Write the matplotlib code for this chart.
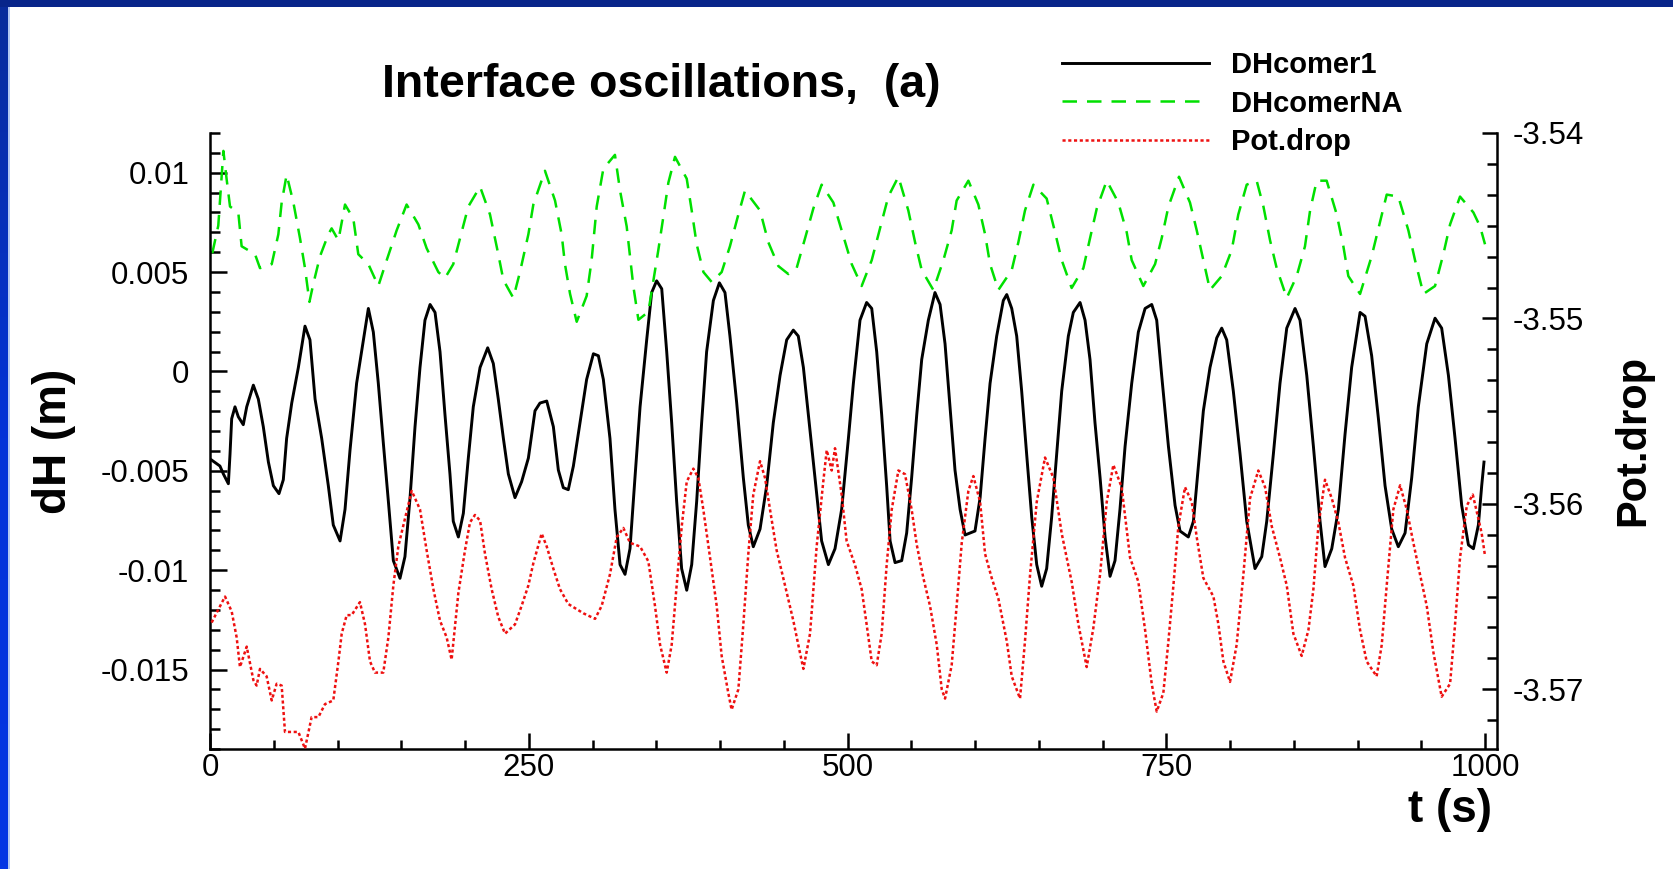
import numpy as np
import matplotlib
matplotlib.use("Agg")
import matplotlib.pyplot as plt
from matplotlib.patches import Rectangle
from matplotlib.colors import LinearSegmentedColormap
from matplotlib.ticker import MultipleLocator, FixedLocator, FuncFormatter

plt.rcParams['font.family'] = ['Liberation Sans', 'DejaVu Sans']
plt.rcParams['axes.unicode_minus'] = False

# DHcomer1 interface level (m)
t_dh1 = [1.3, 7.8, 10.5, 14.4, 15.7, 17.0, 19.6, 22.2, 26.1, 28.8, 34.0, 37.9, 41.8, 45.8,
         49.7, 54.1, 57.5, 60.1, 64.1, 69.3, 74.5, 78.4, 82.4, 87.6, 92.8, 96.7, 102.0,
         105.9, 109.8, 115.0, 120.3, 124.2, 128.1, 132.0, 135.9, 139.9, 143.8, 149.0,
         152.9, 156.9, 160.8, 164.7, 168.6, 172.6, 176.5, 180.4, 184.3, 188.2, 190.8,
         194.8, 198.7, 202.6, 206.5, 211.8, 217.8, 222.2, 226.1, 230.1, 234.0, 239.2,
         244.4, 249.7, 254.9, 258.8, 264.1, 269.3, 273.2, 277.1, 281.0, 285.0, 290.2,
         295.4, 300.7, 304.6, 308.5, 313.7, 317.6, 321.6, 325.5, 329.4, 333.3, 337.3,
         342.5, 346.4, 350.3, 354.3, 358.2, 362.1, 366.0, 369.9, 373.9, 377.8, 381.7,
         385.6, 389.5, 394.8, 399.5, 403.9, 407.8, 413.1, 418.3, 422.2, 426.1, 431.4,
         436.6, 441.8, 447.1, 452.3, 457.5, 461.4, 465.4, 470.6, 475.8, 479.7, 485.0,
         490.2, 495.4, 500.7, 504.6, 509.8, 515.0, 519.0, 522.9, 526.8, 530.7, 533.4,
         537.3, 542.5, 546.4, 550.3, 554.3, 558.2, 563.4, 568.6, 572.6, 576.5, 580.4,
         584.3, 588.3, 592.2, 600.0, 604.0, 607.9, 611.8, 617.0, 622.2, 624.9, 628.8,
         632.7, 636.6, 640.5, 644.5, 648.4, 652.3, 656.2, 660.1, 664.1, 668.0, 673.2,
         677.1, 682.4, 686.3, 690.2, 694.1, 698.1, 702.0, 705.9, 709.8, 713.7, 717.7,
         722.9, 728.1, 733.4, 738.6, 742.5, 746.4, 751.7, 756.9, 760.8, 767.3, 771.3,
         775.2, 779.1, 784.3, 789.6, 793.5, 797.4, 802.6, 807.9, 813.1, 819.6, 824.9,
         828.8, 834.0, 839.2, 844.5, 851.0, 854.9, 860.2, 865.4, 870.6, 874.5, 879.8,
         885.0, 890.2, 895.4, 902.0, 905.9, 911.1, 916.4, 921.6, 926.8, 932.0, 937.3,
         942.5, 947.7, 954.3, 960.8, 966.0, 971.3, 976.5, 981.7, 987.0, 990.9, 994.8,
         997.4, 999.2]
dh1 = [-0.00446, -0.00476, -0.00516, -0.00565, -0.00416, -0.00238, -0.00178, -0.00228,
       -0.00268, -0.00178, -0.00069, -0.00139, -0.00278, -0.00456, -0.00575, -0.00615,
       -0.00545, -0.00337, -0.00159, 0.0002, 0.00228, 0.00159, -0.00139, -0.00337,
       -0.00575, -0.00773, -0.00853, -0.00694, -0.00397, -0.00059, 0.00159, 0.00317,
       0.00198, -0.00059, -0.00357, -0.00654, -0.00952, -0.01041, -0.00932, -0.00635,
       -0.00278, 0.0002, 0.00258, 0.00337, 0.00297, 0.00099, -0.00218, -0.00516,
       -0.00754, -0.00833, -0.00714, -0.00436, -0.00178, 0.0002, 0.00119, 0.0004,
       -0.00139, -0.00337, -0.00516, -0.00635, -0.00555, -0.00436, -0.00198, -0.00159,
       -0.00149, -0.00278, -0.00496, -0.00585, -0.00595, -0.00476, -0.00258, -0.0004,
       0.00089, 0.00079, -0.0004, -0.00337, -0.00694, -0.00972, -0.01021, -0.00892,
       -0.00535, -0.00178, 0.00159, 0.00397, 0.00456, 0.00416, 0.00099, -0.00258,
       -0.00654, -0.00992, -0.01101, -0.00972, -0.00654, -0.00258, 0.00099, 0.00357,
       0.00446, 0.00397, 0.00178, -0.00159, -0.00535, -0.00773, -0.00882, -0.00793,
       -0.00575, -0.00258, -0.0002, 0.00159, 0.00208, 0.00178, 0.0002, -0.00297,
       -0.00615, -0.00853, -0.00972, -0.00892, -0.00694, -0.00337, -0.0006, 0.00258,
       0.00347, 0.00317, 0.00099, -0.00218, -0.00575, -0.00853, -0.00962, -0.00952,
       -0.00813, -0.00535, -0.00218, 0.0006, 0.00258, 0.00397, 0.00337, 0.00139,
       -0.00178, -0.00496, -0.00694, -0.00823, -0.00803, -0.00635, -0.00337, -0.0006,
       0.00178, 0.00357, 0.00387, 0.00317, 0.00178, -0.00099, -0.00416, -0.00734,
       -0.00972, -0.01081, -0.00992, -0.00734, -0.00416, -0.00099, 0.00178, 0.00297,
       0.00347, 0.00258, 0.0006, -0.00258, -0.00535, -0.00833, -0.01031, -0.00952,
       -0.00694, -0.00377, -0.0006, 0.00198, 0.00317, 0.00337, 0.00258, -0.0002,
       -0.00377, -0.00674, -0.00803, -0.00833, -0.00754, -0.00476, -0.00198, 0.0002,
       0.00169, 0.00218, 0.00159, -0.00099, -0.00416, -0.00754, -0.00992, -0.00932,
       -0.00754, -0.00416, -0.0006, 0.00218, 0.00317, 0.00258, -0.0002, -0.00377,
       -0.00754, -0.00982, -0.00892, -0.00694, -0.00317, 0.0002, 0.00297, 0.00278,
       0.00079, -0.00238, -0.00575, -0.00793, -0.00882, -0.00813, -0.00535, -0.00178,
       0.00139, 0.00268, 0.00218, -0.0002, -0.00337, -0.00674, -0.00873, -0.00892,
       -0.00773, -0.00575, -0.00456]

# DHcomerNA interface level (m)
t_dhna = [1.8, 6.5, 10.5, 13.0, 15.7, 22.2, 24.8, 30.0, 35.3, 39.2, 48.4, 53.6, 56.2,
          60.1, 65.4, 70.6, 74.5, 78.0, 81.0, 86.3, 92.8, 95.4, 100.7, 105.9, 112.4,
          116.3, 124.2, 132.0, 138.6, 146.4, 154.2, 163.4, 169.9, 179.1, 184.3, 190.8,
          196.1, 202.6, 211.8, 219.6, 226.1, 230.1, 237.9, 243.1, 249.7, 253.6, 262.7,
          270.6, 275.8, 278.4, 282.4, 287.6, 295.4, 299.3, 303.3, 308.5, 317.6, 321.6,
          326.8, 329.4, 332.0, 336.0, 343.8, 351.6, 355.6, 359.5, 364.7, 373.9, 377.8,
          381.7, 387.0, 393.5, 401.3, 407.8, 414.4, 419.6, 431.4, 437.9, 445.8, 453.6,
          460.1, 466.7, 473.2, 479.7, 488.9, 495.4, 503.3, 511.1, 519.0, 525.5, 532.0,
          539.9, 547.7, 553.0, 558.2, 567.3, 575.2, 581.7, 585.6, 594.8, 602.6, 607.9,
          611.8, 618.3, 628.8, 634.0, 639.2, 645.8, 656.2, 662.8, 668.0, 675.8, 685.0,
          690.2, 695.5, 703.3, 712.4, 719.0, 722.9, 732.0, 741.2, 746.4, 751.7, 760.0,
          768.6, 773.9, 779.1, 784.3, 793.5, 801.3, 806.5, 813.1, 820.9, 826.2, 831.4,
          836.6, 844.5, 852.3, 858.8, 862.8, 868.0, 875.8, 883.7, 888.9, 892.8, 902.0,
          911.1, 916.4, 922.9, 932.0, 939.9, 945.1, 951.7, 960.8, 967.3, 972.6, 980.4,
          990.9, 996.1, 1000.0]
dhna = [0.00595, 0.00734, 0.0111, 0.0097, 0.0083, 0.0080, 0.0063, 0.0061, 0.0059, 0.0052,
        0.0054, 0.0069, 0.0085, 0.0099, 0.0085, 0.0067, 0.0052, 0.0035, 0.0044, 0.0058,
        0.0069, 0.0072, 0.0066, 0.0084, 0.0077, 0.0059, 0.0054, 0.0043, 0.0056, 0.0071,
        0.0084, 0.0074, 0.0062, 0.0050, 0.0047, 0.0054, 0.0067, 0.0083, 0.0093, 0.0079,
        0.0059, 0.0046, 0.0037, 0.0050, 0.0069, 0.0084, 0.0101, 0.0086, 0.0069, 0.0054,
        0.0039, 0.0025, 0.0038, 0.0056, 0.0083, 0.0102, 0.0109, 0.0091, 0.0073, 0.0058,
        0.0043, 0.0026, 0.0030, 0.0061, 0.0078, 0.0095, 0.0108, 0.0097, 0.0081, 0.0064,
        0.0050, 0.0045, 0.0050, 0.0063, 0.0079, 0.0091, 0.0081, 0.0065, 0.0053, 0.0049,
        0.0052, 0.0067, 0.0082, 0.0094, 0.0085, 0.0071, 0.0054, 0.0043, 0.0056, 0.0072,
        0.0088, 0.0098, 0.0081, 0.0065, 0.0051, 0.0041, 0.0056, 0.0071, 0.0086, 0.0096,
        0.0084, 0.0069, 0.0054, 0.0041, 0.0051, 0.0065, 0.0081, 0.0094, 0.0087, 0.0070,
        0.0056, 0.0042, 0.0052, 0.0067, 0.0082, 0.0096, 0.0085, 0.0070, 0.0056, 0.0043,
        0.0054, 0.0067, 0.0083, 0.0098, 0.0085, 0.0071, 0.0056, 0.0041, 0.0048, 0.0061,
        0.0079, 0.0094, 0.0096, 0.0083, 0.0066, 0.0052, 0.0037, 0.0048, 0.0063, 0.0081,
        0.0096, 0.0096, 0.0079, 0.0063, 0.0048, 0.0039, 0.0058, 0.0072, 0.0089, 0.0088,
        0.0071, 0.0056, 0.0039, 0.0043, 0.0059, 0.0074, 0.0088, 0.0080, 0.0073, 0.0064]

# potential drop (right axis)
t_pot = [1.3, 6.5, 11.8, 17.0, 20.9, 23.5, 28.8, 34.0, 36.6, 39.2, 44.4, 48.4, 52.3, 56.2,
         58.8, 69.3, 74.5, 79.7, 85.0, 90.2, 96.7, 100.7, 103.3, 107.2, 111.1, 117.6,
         121.6, 125.5, 129.4, 135.9, 139.9, 143.8, 147.7, 152.9, 158.2, 164.7, 169.9,
         175.2, 180.4, 185.6, 189.5, 194.8, 200.0, 203.9, 207.8, 211.8, 215.7, 220.9,
         226.1, 231.4, 239.2, 244.4, 249.7, 253.6, 260.1, 264.1, 269.3, 274.5, 281.0,
         292.8, 302.0, 307.2, 313.7, 319.0, 324.2, 329.4, 337.3, 343.8, 349.0, 353.0,
         358.2, 362.1, 366.0, 370.0, 373.9, 379.1, 383.0, 386.9, 392.2, 397.4, 401.3,
         406.5, 409.1, 414.4, 418.3, 422.2, 426.1, 431.4, 435.3, 439.2, 444.4, 451.0,
         457.5, 461.4, 465.4, 470.6, 475.8, 481.0, 483.7, 487.6, 490.2, 495.4, 499.3,
         505.9, 511.1, 515.0, 519.0, 522.9, 526.8, 530.7, 534.7, 539.9, 545.1, 550.3,
         554.3, 559.5, 564.7, 570.0, 573.9, 576.5, 581.7, 585.6, 589.6, 594.8, 598.7,
         604.0, 607.9, 613.1, 618.3, 624.9, 628.8, 635.3, 639.2, 643.2, 648.4, 654.9,
         661.5, 668.0, 675.8, 681.1, 687.6, 692.8, 698.1, 703.3, 708.5, 715.0, 721.6,
         728.1, 733.4, 738.6, 742.5, 747.7, 751.7, 755.6, 759.5, 764.7, 770.0, 773.9,
         779.1, 787.0, 790.9, 794.8, 800.0, 805.2, 810.5, 815.7, 822.2, 827.5, 832.7,
         839.2, 844.5, 849.7, 856.2, 861.5, 865.4, 869.3, 874.5, 879.8, 885.0, 890.2,
         896.7, 902.0, 907.2, 915.0, 919.0, 922.9, 928.1, 933.4, 938.6, 943.8, 949.0,
         954.3, 959.5, 966.0, 972.6, 976.5, 980.4, 985.7, 990.4, 994.8, 997.4, 1000.0]
pot = [-3.5664, -3.5657, -3.5650, -3.5658, -3.5672, -3.5688, -3.5677, -3.5695, -3.5698,
       -3.5689, -3.5693, -3.5706, -3.5697, -3.5698, -3.5723, -3.5723, -3.5732, -3.5715,
       -3.5715, -3.5708, -3.5706, -3.5685, -3.5670, -3.5660, -3.5660, -3.5653, -3.5665,
       -3.5685, -3.5691, -3.5691, -3.5672, -3.5644, -3.5623, -3.5608, -3.5593, -3.5603,
       -3.5625, -3.5646, -3.5663, -3.5672, -3.5684, -3.5648, -3.5625, -3.5610, -3.5606,
       -3.5609, -3.5627, -3.5646, -3.5661, -3.5670, -3.5665, -3.5655, -3.5644, -3.5632,
       -3.5616, -3.5623, -3.5635, -3.5646, -3.5654, -3.5659, -3.5662, -3.5655, -3.5638,
       -3.5618, -3.5613, -3.5621, -3.5623, -3.5631, -3.5655, -3.5676, -3.5691, -3.5676,
       -3.5644, -3.5612, -3.5588, -3.5581, -3.5586, -3.5603, -3.5629, -3.5655, -3.5682,
       -3.5702, -3.5711, -3.5700, -3.5665, -3.5627, -3.5595, -3.5577, -3.5586, -3.5603,
       -3.5625, -3.5644, -3.5663, -3.5676, -3.5689, -3.5670, -3.5623, -3.5588, -3.5571,
       -3.5582, -3.5570, -3.5595, -3.5620, -3.5633, -3.5646, -3.5665, -3.5685, -3.5687,
       -3.5670, -3.5633, -3.5603, -3.5582, -3.5584, -3.5603, -3.5622, -3.5640, -3.5655,
       -3.5676, -3.5700, -3.5705, -3.5687, -3.5655, -3.5621, -3.5593, -3.5585, -3.5599,
       -3.5627, -3.5640, -3.5651, -3.5674, -3.5693, -3.5705, -3.5674, -3.5638, -3.5599,
       -3.5575, -3.5586, -3.5616, -3.5642, -3.5665, -3.5688, -3.5667, -3.5638, -3.5599,
       -3.5579, -3.5591, -3.5629, -3.5642, -3.5668, -3.5697, -3.5712, -3.5702, -3.5674,
       -3.5644, -3.5612, -3.5591, -3.5599, -3.5618, -3.5640, -3.5650, -3.5665, -3.5685,
       -3.5696, -3.5676, -3.5638, -3.5597, -3.5582, -3.5591, -3.5612, -3.5629, -3.5644,
       -3.5670, -3.5682, -3.5668, -3.5646, -3.5612, -3.5587, -3.5597, -3.5610, -3.5629,
       -3.5644, -3.5668, -3.5685, -3.5693, -3.5676, -3.5644, -3.5603, -3.5590, -3.5603,
       -3.5621, -3.5638, -3.5655, -3.5680, -3.5704, -3.5697, -3.5665, -3.5629, -3.5601,
       -3.5595, -3.5608, -3.5616, -3.5628]

left_ticks = [-0.015, -0.01, -0.005, 0, 0.005, 0.01]
right_ticks = [-3.57, -3.56, -3.55, -3.54]
x_ticks = [0, 250, 500, 750, 1000]

W, H = 1673, 869
fig = plt.figure(figsize=(W / 100, H / 100), dpi=100)
fig.patch.set_facecolor('white')

# slide frame: navy band on top, blue gradient strip on the left
fig.patches.append(Rectangle((0, 1 - 7 / H), 1, 7 / H, transform=fig.transFigure,
                             facecolor='#08258a', edgecolor='none', zorder=0))
gax = fig.add_axes([0, 0, 8 / W, 1 - 7 / H])
cmap = LinearSegmentedColormap.from_list('frame', ['#0536e4', '#0433d8', '#0a2c9c'])
gax.imshow(np.linspace(0, 1, 256)[:, None], cmap=cmap, aspect='auto', origin='lower')
gax.axis('off')
fig.patches.append(Rectangle((8 / W, 0), 2 / W, 1 - 7 / H, transform=fig.transFigure,
                             facecolor='#b4c8f2', edgecolor='none', zorder=0))

ax = fig.add_axes([210 / W, 1 - 749 / H, 1287 / W, 616 / H])
ax2 = ax.twinx()

lw_axis = 1.8
l1, = ax.plot(t_dh1, dh1, color='black', lw=2.1, label='DHcomer1')
l2, = ax.plot(t_dhna, dhna, color='#00e000', lw=1.8, linestyle=(0, (5.8, 4.0)),
              label='DHcomerNA')
l3, = ax2.plot(t_pot, pot, color='#ee1010', lw=1.8, linestyle=(0, (1.25, 1.05)),
               label='Pot.drop')

ax.set_xlim(0, 1009.4)
ax.set_ylim(-0.019, 0.012)
ax2.set_ylim(-3.57322, -3.54)

for a in (ax, ax2):
    a.spines['top'].set_visible(False)
    for s in a.spines.values():
        s.set_linewidth(lw_axis)
ax.spines['right'].set_visible(False)
ax2.spines['left'].set_visible(False)
ax2.spines['bottom'].set_visible(False)

tick_font = 22.5
ax.xaxis.set_major_locator(FixedLocator(x_ticks))
ax.xaxis.set_minor_locator(MultipleLocator(50))
ax.yaxis.set_major_locator(FixedLocator(left_ticks))
ax.yaxis.set_minor_locator(MultipleLocator(0.001))
ax2.yaxis.set_major_locator(FixedLocator(right_ticks))
ax2.yaxis.set_minor_locator(MultipleLocator(0.01 / 6))

fmt = FuncFormatter(lambda v, p: ('%g' % round(v, 6)))
ax.yaxis.set_major_formatter(fmt)
ax2.yaxis.set_major_formatter(fmt)
ax.xaxis.set_major_formatter(fmt)

ax.tick_params(axis='y', which='both', direction='in', width=lw_axis, labelsize=tick_font,
               pad=15, right=False)
ax.tick_params(axis='y', which='major', length=12)
ax.tick_params(axis='y', which='minor', length=7)
ax.tick_params(axis='x', which='both', direction='in', width=lw_axis, labelsize=tick_font,
               pad=3, top=False)
ax.tick_params(axis='x', which='major', length=11.5)
ax.tick_params(axis='x', which='minor', length=6.5)
ax2.tick_params(axis='y', which='both', direction='in', width=lw_axis, labelsize=tick_font,
                pad=11)
ax2.tick_params(axis='y', which='major', length=11)
ax2.tick_params(axis='y', which='minor', length=7)

# axis titles and heading
fig.text(54 / W, 1 - 441 / H, 'dH (m)', rotation=90, ha='center', va='center',
         fontsize=33, fontweight='bold')
fig.text(1633 / W, 1 - 440 / H, 'Pot.drop', rotation=90, ha='center', va='center',
         fontsize=30, fontweight='bold')
fig.text(1450 / W, 1 - 810 / H, 't (s)', ha='center', va='center',
         fontsize=33, fontweight='bold')
fig.text(661 / W, 1 - 85 / H, 'Interface oscillations,  (a)', ha='center', va='center',
         fontsize=33.5, fontweight='bold')

fig.legend([l1, l2, l3], ['DHcomer1', 'DHcomerNA', 'Pot.drop'], loc='upper left',
           bbox_to_anchor=(1062 / W, 1 - 51 / H), frameon=False, borderpad=0,
           borderaxespad=0, handlelength=5.05, handletextpad=0.75, labelspacing=0.36,
           prop={'weight': 'bold', 'size': 21})

fig.savefig('out.png', dpi=100)
